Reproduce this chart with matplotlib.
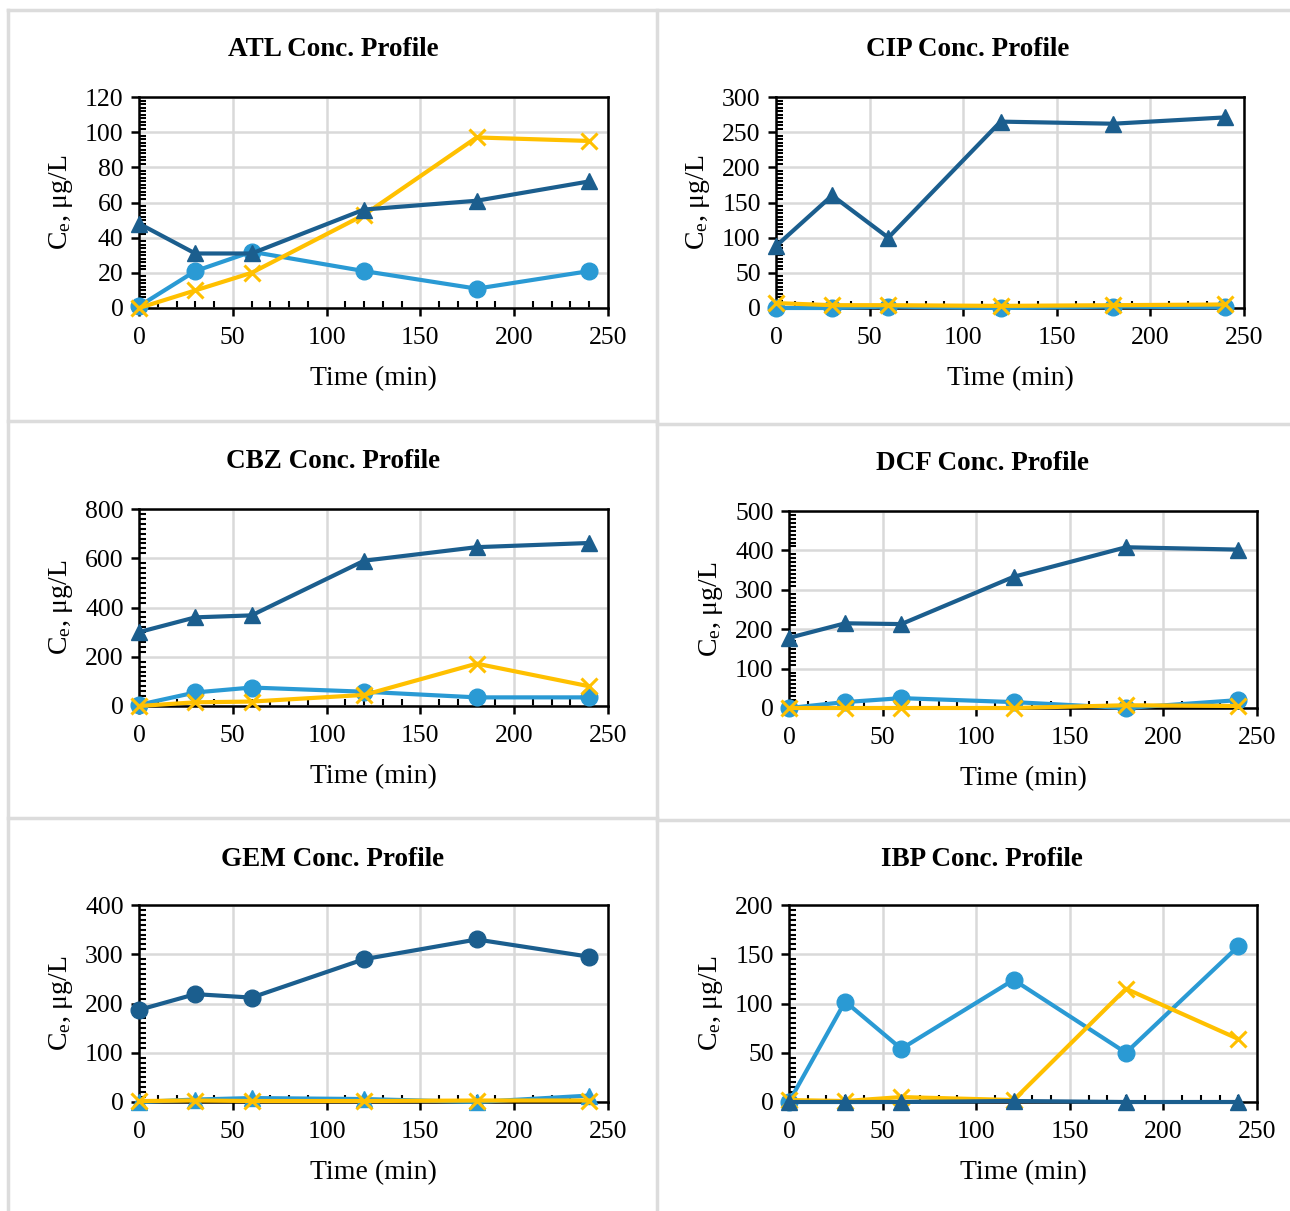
import matplotlib
matplotlib.use("Agg")
import matplotlib.pyplot as plt
from matplotlib.ticker import MultipleLocator, AutoMinorLocator
from matplotlib.lines import Line2D

plt.rcParams['font.family'] = ['Liberation Serif', 'DejaVu Serif']
plt.rcParams['mathtext.fontset'] = 'custom'
plt.rcParams['mathtext.rm'] = 'Liberation Serif'
plt.rcParams['mathtext.it'] = 'Liberation Serif:italic'

# sampling times (min)
time = [0, 30, 60, 120, 180, 240]

titles = ['ATL', 'CIP', 'CBZ', 'DCF', 'GEM', 'IBP']
ymax = [120, 300, 800, 500, 400, 200]
ystep = [20, 50, 200, 100, 100, 50]

# dark blue series
dark = {
    'ATL': [48, 31, 31, 56, 61, 72],
    'CIP': [88, 160, 100, 265, 262, 271],
    'CBZ': [300, 360, 368, 590, 645, 662],
    'DCF': [178, 215, 213, 333, 408, 402],
    'GEM': [187, 219, 212, 290, 330, 295],
    'IBP': [0, 0, 0, 1, 0, 0],
}
# light blue series
light = {
    'ATL': [1, 21, 32, 21, 11, 21],
    'CIP': [0, 0, 2, 0, 2, 1],
    'CBZ': [5, 55, 75, 58, 35, 35],
    'DCF': [0, 15, 25, 15, 0, 20],
    'GEM': [0, 5, 8, 6, 0, 13],
    'IBP': [0, 102, 54, 124, 50, 158],
}
# yellow series
yellow = {
    'ATL': [0, 10, 20, 53, 97, 95],
    'CIP': [7, 4, 4, 3, 4, 5],
    'CBZ': [0, 15, 18, 45, 172, 80],
    'DCF': [0, 0, 0, 0, 7, 5],
    'GEM': [2, 3, 2, 2, 3, 3],
    'IBP': [2, 1, 5, 2, 115, 64],
}

c_dark = '#1B5E8E'
c_light = '#2A9AD4'
c_yel = '#FFC000'

W, H = 1290, 1211
fig = plt.figure(figsize=(W / 100, H / 100), dpi=100)

# axes boxes in pixels: left, right, top, bottom
boxes = [(139, 608, 97, 308), (776, 1244, 97, 308),
         (139, 608, 509, 706), (789, 1257, 511, 708),
         (139, 608, 905, 1102), (789, 1257, 905, 1102)]
# title centres in pixels
title_pos = [(333, 50), (968, 50), (333, 462), (982, 464), (333, 859), (982, 859)]

for i, name in enumerate(titles):
    l, r, t, b = boxes[i]
    ax = fig.add_axes([l / W, 1 - b / H, (r - l) / W, (b - t) / H])
    mk_dark, mk_light = ('o', '^') if name == 'GEM' else ('^', 'o')
    ax.plot(time, light[name], color=c_light, lw=3, marker=mk_light, ms=12,
            zorder=3, clip_on=False)
    ax.plot(time, yellow[name], color=c_yel, lw=3, marker='x', ms=11,
            mew=2.2, zorder=4, clip_on=False)
    ax.plot(time, dark[name], color=c_dark, lw=3, marker=mk_dark, ms=12,
            zorder=5, clip_on=False)

    ax.set_xlim(0, 250)
    ax.set_ylim(0, ymax[i])
    ax.xaxis.set_major_locator(MultipleLocator(50))
    ax.xaxis.set_minor_locator(MultipleLocator(10))
    ax.yaxis.set_major_locator(MultipleLocator(ystep[i]))
    ax.yaxis.set_minor_locator(AutoMinorLocator(10))
    ax.grid(True, which='major', color='#D9D9D9', lw=1.8, zorder=0)
    ax.set_axisbelow(True)
    for s in ax.spines.values():
        s.set_linewidth(1.8)
        s.set_color('black')
    ax.tick_params(which='major', direction='out', length=6, width=1.8,
                   labelsize=18.5, pad=5)
    ax.tick_params(axis='x', which='major', pad=8)
    ax.tick_params(which='minor', direction='in', length=5, width=1.5)
    ax.set_xlabel('Time (min)', fontsize=20, labelpad=12)
    ax.set_ylabel(r'C$_\mathrm{e}$, μg/L', fontsize=20, labelpad=7)
    tx, ty = title_pos[i]
    fig.text(tx / W, 1 - ty / H, name + ' Conc. Profile', fontsize=19.5,
             fontweight='bold', ha='center', va='center')

# light gray panel borders
gray = '#DCDCDC'
for xs, ys in [([8, 1290], [10, 10]), ([8, 8], [10, 1211]),
               ([657, 657], [10, 1211]), ([8, 657], [421, 421]),
               ([657, 1290], [424, 424]), ([8, 657], [818, 818]),
               ([657, 1290], [820, 820])]:
    fig.add_artist(Line2D([x / W for x in xs], [1 - y / H for y in ys],
                          color=gray, lw=2.5))

fig.savefig('out.png', dpi=100)
